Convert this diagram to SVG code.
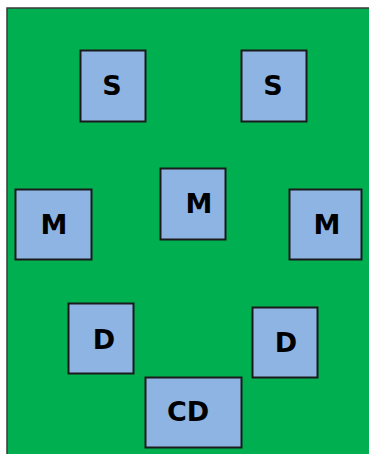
<svg xmlns="http://www.w3.org/2000/svg" width="369" height="454" viewBox="0 0 369 454">
<style>
.box{fill:#8EB4E3;stroke:#1A1A1A;stroke-width:2}
.lbl{font-family:"DejaVu Sans",sans-serif;font-weight:bold;font-size:27px;fill:#000;text-anchor:middle}
</style>
<rect width="369" height="454" fill="#FFFFFF"/>
<rect x="7" y="8" width="380" height="470" fill="#00B050" stroke="#3A3A3A" stroke-width="1.5"/>
<g id="connectors"/>
<g id="s1"><rect class="box" x="80.5" y="50.5" width="65" height="71"/><text class="lbl" x="112" y="94.5">S</text></g>
<g id="s2"><rect class="box" x="241.5" y="50.5" width="65" height="71"/><text class="lbl" x="273" y="94.5">S</text></g>
<g id="m1"><rect class="box" x="15.5" y="189.5" width="76" height="70"/><text class="lbl" x="54" y="234">M</text></g>
<g id="m2"><rect class="box" x="160.5" y="168.5" width="65" height="71"/><text class="lbl" x="199" y="212.5">M</text></g>
<g id="m3"><rect class="box" x="289.5" y="189.5" width="72" height="70"/><text class="lbl" x="327" y="234">M</text></g>
<g id="d1"><rect class="box" x="68.5" y="303.5" width="65" height="70"/><text class="lbl" x="104" y="349">D</text></g>
<g id="d2"><rect class="box" x="252.5" y="307.5" width="65" height="70"/><text class="lbl" x="286" y="352">D</text></g>
<g id="cd"><rect class="box" x="145.5" y="377.5" width="96" height="70"/><text class="lbl" x="188" y="420.5">CD</text></g>
</svg>
